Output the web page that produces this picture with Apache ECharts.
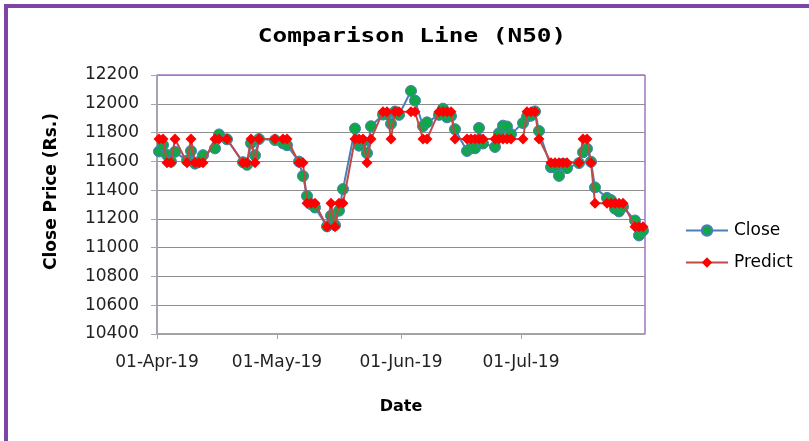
<!DOCTYPE html>
<html><head><meta charset="utf-8">
<script src="https://cdn.jsdelivr.net/npm/echarts@6/dist/echarts.min.js"></script>
<style>html,body{margin:0;padding:0;background:#fff}#c{width:809px;height:441px}</style>
</head><body><div id="c"></div>
<script>
const dates = [
 '2019-04-01','2019-04-02','2019-04-03','2019-04-04','2019-04-05','2019-04-08','2019-04-09','2019-04-10','2019-04-11','2019-04-12',
 '2019-04-15','2019-04-16','2019-04-18','2019-04-22','2019-04-23','2019-04-24','2019-04-25','2019-04-26','2019-04-30',
 '2019-05-02','2019-05-03','2019-05-06','2019-05-07','2019-05-08','2019-05-09','2019-05-10','2019-05-13','2019-05-14','2019-05-15',
 '2019-05-16','2019-05-17','2019-05-20','2019-05-21','2019-05-22','2019-05-23','2019-05-24','2019-05-27','2019-05-28','2019-05-29',
 '2019-05-30','2019-05-31',
 '2019-06-03','2019-06-04','2019-06-06','2019-06-07','2019-06-10','2019-06-11','2019-06-12','2019-06-13','2019-06-14','2019-06-17',
 '2019-06-18','2019-06-19','2019-06-20','2019-06-21','2019-06-24','2019-06-25','2019-06-26','2019-06-27','2019-06-28',
 '2019-07-01','2019-07-02','2019-07-03','2019-07-04','2019-07-05','2019-07-08','2019-07-09','2019-07-10','2019-07-11','2019-07-12',
 '2019-07-15','2019-07-16','2019-07-17','2019-07-18','2019-07-19','2019-07-22','2019-07-23','2019-07-24','2019-07-25','2019-07-26',
 '2019-07-29','2019-07-30','2019-07-31'
];
const closeValues = [
 11669,11713,11644,11598,11666,11605,11672,11584,11597,11643,
 11690,11787,11753,11594,11576,11726,11642,11755,11748,
 11725,11712,11598,11498,11359,11302,11279,11148,11222,11157,
 11257,11407,11828,11709,11738,11657,11844,11925,11929,11861,
 11946,11923,
 12089,12022,11844,11871,11923,11966,11906,11914,11823,11672,
 11692,11691,11832,11724,11700,11796,11848,11842,11789,
 11866,11910,11917,11947,11811,11559,11556,11499,11583,11553,
 11588,11663,11688,11597,11419,11346,11331,11271,11252,11284,
 11189,11085,11118
];
const predictValues = [
 11755,11755,11590,11590,11755,11590,11755,11590,11590,11590,
 11755,11755,11755,11590,11590,11755,11590,11755,11755,
 11755,11755,11590,11590,11308,11308,11308,11146,11308,11146,
 11308,11308,11755,11755,11755,11590,11755,11945,11945,11755,
 11945,11945,
 11945,11945,11755,11755,11945,11945,11945,11945,11755,11755,
 11755,11755,11755,11755,11755,11755,11755,11755,11755,
 11755,11945,11945,11945,11755,11590,11590,11590,11590,11590,
 11590,11755,11755,11590,11308,11308,11308,11308,11308,11308,
 11146,11146,11146
];
const yMin = 10400, yMax = 12200, yStep = 200;
const xStart = '2019-04-01', xEnd = '2019-08-01';
const monthNames = ['Jan','Feb','Mar','Apr','May','Jun','Jul','Aug','Sep','Oct','Nov','Dec'];
const titleText = 'Comparison Line (N50)';
const yName = 'Close Price (Rs.)';
const xName = 'Date';

function ts(s){const p=s.split('-');return new Date(+p[0],+p[1]-1,+p[2]).getTime();}
const HALF_DAY = 43200000;
const closeData = dates.map((d,i)=>[ts(d)+HALF_DAY, closeValues[i]]);
const predictData = dates.map((d,i)=>[ts(d)+HALF_DAY, predictValues[i]]);
const endTs = ts(xEnd);

const chart = echarts.init(document.getElementById('c'));
chart.setOption({
  animation:false,
  backgroundColor:'#fff',
  graphic:[
    {type:'rect', shape:{x:6,y:6,width:1000,height:1000}, style:{fill:null, stroke:'#7E45A6', lineWidth:4}, z:-1},
    {type:'text', x:412, y:37, scaleX:1.22, style:{text:titleText, font:'bold 20px "DejaVu Sans Mono"', fill:'#000', align:'center', verticalAlign:'middle'}}
  ],
  grid:{left:157, right:164, top:75, bottom:107, show:true, borderColor:'#7030A0', borderWidth:1, backgroundColor:'transparent'},
  legend:{
    orient:'vertical', left:680, top:217, itemWidth:42, itemHeight:13, itemGap:15,
    textStyle:{fontFamily:'DejaVu Sans', fontSize:17, color:'#000', padding:[0,0,0,1]},
    data:['Close','Predict']
  },
  xAxis:{
    type:'time', min:ts(xStart), max:endTs, splitNumber:4,
    minInterval:28*86400000, maxInterval:31*86400000,
    name:xName, nameLocation:'middle', nameGap:65,
    nameTextStyle:{fontFamily:'DejaVu Sans', fontSize:16, fontWeight:'bold', color:'#000'},
    axisLine:{show:true, lineStyle:{color:'#A6A6A6', width:1.5}},
    axisTick:{show:true, length:5, lineStyle:{color:'#A6A6A6'}},
    splitLine:{show:false},
    axisLabel:{
      margin:20, fontFamily:'DejaVu Sans', fontSize:17, color:'#222', showMaxLabel:false, hideOverlap:false,
      formatter:function(v){const d=new Date(v); if(v>=endTs) return ''; return ('0'+d.getDate()).slice(-2)+'-'+monthNames[d.getMonth()]+'-'+String(d.getFullYear()).slice(-2);}
    }
  },
  yAxis:{
    type:'value', min:yMin, max:yMax, interval:yStep,
    name:yName, nameLocation:'middle', nameGap:97, nameRotate:90,
    nameTextStyle:{fontFamily:'DejaVu Sans', fontSize:17, fontWeight:'bold', color:'#000', padding:[0,0,0,26]},
    axisLine:{show:true, lineStyle:{color:'#A6A6A6', width:1.5}},
    axisTick:{show:true, length:6, lineStyle:{color:'#A6A6A6'}},
    splitLine:{show:true, lineStyle:{color:'#8E8E8E', width:1}},
    axisLabel:{margin:18, fontFamily:'DejaVu Sans', fontSize:17, color:'#222', formatter:function(v){return String(v);}}
  },
  series:[
    {name:'Close', type:'line', data:closeData, symbol:'circle', symbolSize:11,
     lineStyle:{color:'#4A7EBB', width:2}, itemStyle:{color:'#10A64A', borderColor:'#4A7EBB', borderWidth:1}, z:2},
    {name:'Predict', type:'line', data:predictData, symbol:'diamond', symbolSize:11,
     lineStyle:{color:'#BE4B48', width:2}, itemStyle:{color:'#FF0000', borderColor:'#FF0000', borderWidth:0}, z:3}
  ]
});
</script></body></html>
